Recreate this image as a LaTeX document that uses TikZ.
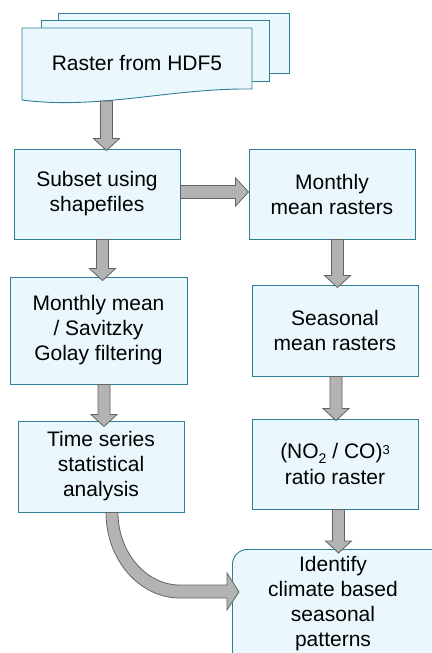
\documentclass[tikz,border=0pt]{standalone}
\usepackage{fontspec}
\setmainfont{Liberation Sans}
\usetikzlibrary{calc}

\definecolor{boxfill}{HTML}{EAF8FD}
\definecolor{boxline}{HTML}{2E7F95}
\definecolor{arrfill}{HTML}{B3B3B3}
\definecolor{arrline}{HTML}{646464}

\tikzset{
  procbox/.style={draw=boxline, fill=boxfill, line width=0.9pt, inner sep=0pt,
    align=center, font=\fontsize{21}{25}\selectfont},
  boxtext/.style={inner sep=0pt, align=center, font=\fontsize{21}{25}\selectfont},
  docpage/.style={draw=boxline, fill=boxfill, line width=0.9pt},
  blockarrow/.style={draw=arrline, fill=arrfill, line width=0.8pt, line join=miter},
}

% small lowered / raised digits for the ratio label
\newcommand{\lowdigit}[1]{\raisebox{-5pt}{\fontsize{14}{14}\selectfont #1}}
\newcommand{\highdigit}[1]{\raisebox{4pt}{\fontsize{13}{13}\selectfont #1}}

% block arrow pointing down: #1 start point (sets x), #2 tip point (sets y)
\newcommand{\blockdown}[2]{%
  \filldraw[blockarrow] let \p1=#1, \p2=#2 in
    (\x1-6pt,\y1) -- (\x1-6pt,\y2+12pt) -- (\x1-13pt,\y2+12pt) -- (\x1,\y2)
    -- (\x1+13pt,\y2+12pt) -- (\x1+6pt,\y2+12pt) -- (\x1+6pt,\y1) -- cycle;}
% block arrow pointing right: #1 start point (sets y), #2 tip point (sets x)
\newcommand{\blockright}[2]{%
  \filldraw[blockarrow] let \p1=#1, \p2=#2 in
    (\x1,\y1+6.5pt) -- (\x2-13pt,\y1+6.5pt) -- (\x2-13pt,\y1+14pt) -- (\x2,\y1)
    -- (\x2-13pt,\y1-14pt) -- (\x2-13pt,\y1-6.5pt) -- (\x1,\y1-6.5pt) -- cycle;}

\begin{document}
\begin{tikzpicture}[x=1pt, y=-1pt]
\useasboundingbox (0,0) rectangle (431,653);

% stacked document shape
\filldraw[docpage] (58,13) rectangle (289,73);
\filldraw[docpage] (41,20) rectangle (269,81);
\filldraw[docpage] (22,28) -- (252,28) -- (252,89)
  .. controls (170,88) and (100,110) .. (22,100) -- cycle;
\node[boxtext] (raster) at (137,63) {Raster from HDF5};
\coordinate (rasterbot) at (106.5,101);

% process boxes
\node[procbox, minimum width=166pt, minimum height=90pt] (sub) at (97,194)
  {Subset using\\shapefiles};
\node[procbox, minimum width=166pt, minimum height=90pt] (mmr) at (332,194)
  {Monthly\\mean rasters};
\node[procbox, minimum width=177pt, minimum height=107pt] (filt) at (98.5,330.5)
  {Monthly mean\\/ Savitzky\\Golay filtering};
\node[procbox, minimum width=166pt, minimum height=91pt] (seas) at (335,330.5)
  {Seasonal\\mean rasters};
\node[procbox, minimum width=166pt, minimum height=91pt] (ts) at (101,466.5)
  {Time series\\statistical\\analysis};
\node[procbox, minimum width=166pt, minimum height=90pt] (ratio) at (335,464)
  {(NO\lowdigit{2} / CO)\highdigit{3}\\[1pt]ratio raster};

% final box runs past the right and bottom edges
\node[procbox, rounded corners=15pt, anchor=north west,
  minimum width=230pt, minimum height=140pt] (ident) at (232,549) {};
\node[boxtext] (identtext) at (333,604)
  {Identify\\climate based\\seasonal\\patterns};

% straight connectors
\blockdown{(rasterbot)}{([yshift=-2pt]sub.north)}
\blockright{([yshift=2pt]sub.east)}{(mmr.west)}
\blockdown{([xshift=5.5pt]sub.south)}{([yshift=-4pt]filt.north)}
\blockdown{([xshift=5.5pt]mmr.south)}{([yshift=-3pt]seas.north)}
\blockdown{([xshift=5.5pt]filt.south)}{([yshift=-6pt]ts.north)}
\blockdown{([xshift=1pt]seas.south)}{([yshift=-2pt]ratio.north)}
\blockdown{([xshift=3.5pt]ratio.south)}{([yshift=-4pt]ident.north)}

% curved connector into the last box
\filldraw[blockarrow] let \p1=([xshift=11pt]ts.south),
    \p2=([xshift=7pt, yshift=-43pt]ident.north west) in
  (\x1-6pt,\y1)
  .. controls (\x1-6pt,\y1-47pt) and (\x1+27pt,\y2-6pt) .. (\x1+68pt,\y2-6pt)
  -- (\x2-12pt,\y2-6pt) -- (\x2-12pt,\y2-18pt) -- (\x2,\y2)
  -- (\x2-12pt,\y2+19pt) -- (\x2-12pt,\y2+7pt) -- (\x1+68pt,\y2+7pt)
  .. controls (\x1+34pt,\y2+7pt) and (\x1+6pt,\y1-40pt) .. (\x1+6pt,\y1)
  -- cycle;
\end{tikzpicture}
\end{document}
